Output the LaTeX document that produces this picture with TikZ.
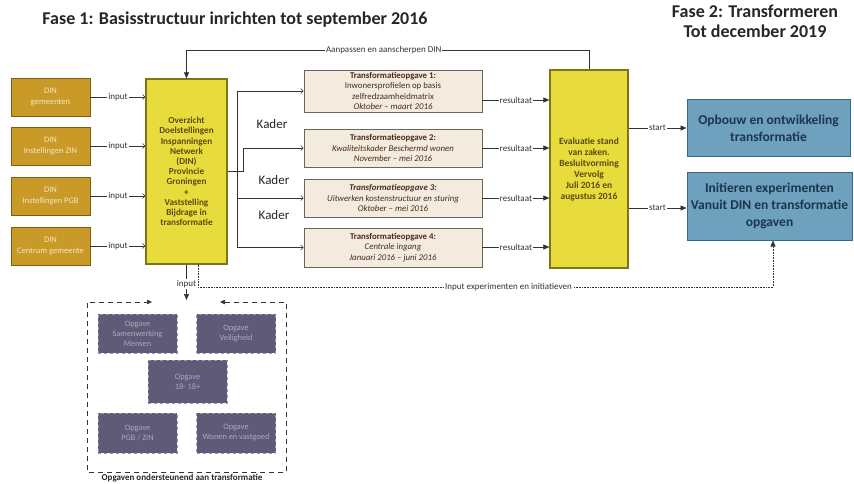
\documentclass[tikz,border=0pt]{standalone}
\usepackage{fontspec}
\setmainfont{Carlito}
\usetikzlibrary{arrows.meta}
\definecolor{dingold}{HTML}{C99A28}
\definecolor{dinborder}{HTML}{7A5E12}
\definecolor{dintext}{HTML}{F6E7BC}
\definecolor{ylw}{HTML}{E8DC3C}
\definecolor{ylwborder}{HTML}{7E7418}
\definecolor{ylwtext}{HTML}{5A4A12}
\definecolor{beige}{HTML}{F3EBDD}
\definecolor{beigeborder}{HTML}{6E645A}
\definecolor{trtext}{HTML}{4A2A1C}
\definecolor{blu}{HTML}{6DA1BD}
\definecolor{bluborder}{HTML}{3A6882}
\definecolor{blutext}{HTML}{1C3550}
\definecolor{purp}{HTML}{5E5A78}
\definecolor{purpborder}{HTML}{9A98AE}
\definecolor{purptext}{HTML}{ADAABD}
\definecolor{ln}{HTML}{333333}
\newcommand\fsz[2]{\fontsize{#1}{#2}\selectfont}
\tikzset{
  dinbox/.style={draw=dinborder, fill=dingold, line width=0.8pt, minimum width=79pt, minimum height=38pt, inner sep=0pt, align=center, text=dintext, font=\fsz{8.5}{11}},
  ylwbox/.style={draw=ylwborder, fill=ylw, line width=1.2pt, inner sep=0pt, align=center, text=ylwtext, font=\bfseries\fsz{9.2}{10.2}},
  trbox/.style={draw=beigeborder, fill=beige, line width=0.7pt, minimum width=178pt, inner sep=0pt, align=center, text=trtext, font=\fsz{8.8}{10.2}},
  blubox/.style={draw=bluborder, fill=blu, line width=1pt, inner sep=0pt, align=center, text=blutext, font=\bfseries\fsz{13.5}{17}},
  purpbox/.style={draw=purpborder, dashed, fill=purp, line width=0.5pt, minimum width=79pt, minimum height=39pt, inner sep=0pt, align=center, text=purptext, font=\fsz{8.3}{10}},
  conn/.style={draw=ln, line width=0.6pt},
  openarr/.style={conn, -{Straight Barb[length=2.5pt,width=5pt]}},
  fillarr/.style={conn, -{Triangle[length=6pt,width=5pt]}},
  lbl/.style={fill=white, inner sep=1pt, text=black!80, font=\fsz{9}{10}},
  kader/.style={text=black!85, font=\fsz{13}{15}},
  ttl/.style={text=black!85, font=\bfseries\fsz{18}{20}, align=center},
}
\begin{document}
\begin{tikzpicture}[x=1pt,y=-1pt]
\useasboundingbox[fill=white] (0,0) rectangle (854,484);

% titles
\node[ttl] (title1) at (235,20) {Fase 1: Basisstructuur inrichten tot september 2016};
\node[ttl] (title2) at (755,21) {Fase 2: Transformeren\\Tot december 2019};

% DIN boxes
\node[dinbox] (d1) at (50.5,97) {DIN\\gemeenten};
\node[dinbox] (d2) at (50.5,146) {DIN\\Instellingen ZIN};
\node[dinbox] (d3) at (50.5,196) {DIN\\Instellingen PGB};
\node[dinbox] (d4) at (50.5,246) {DIN\\Centrum gemeente};

% central box
\node[ylwbox, minimum width=81pt, minimum height=185pt] (c) at (186.5,171.5)
 {Overzicht\\Doelstellingen\\Inspanningen\\Netwerk\\(DIN)\\Provincie\\Groningen\\+\\Vaststelling\\Bijdrage in\\transformatie};

% transformation boxes
\node[trbox, minimum height=42pt] (t1) at (393,91)
 {\textbf{Transformatieopgave 1:}\\Inwonersprofielen op basis\\zelfredzaamheidmatrix\\\textit{Oktober -- maart 2016}};
\node[trbox, minimum height=38pt] (t2) at (393,148)
 {\textbf{Transformatieopgave 2:}\\\textit{Kwaliteitskader Beschermd wonen}\\\textit{November -- mei 2016}};
\node[trbox, minimum height=38pt] (t3) at (393,198)
 {\textbf{\textit{Transformatieopgave 3:}}\\\textit{Uitwerken kostenstructuur en sturing}\\\textit{Oktober -- mei 2016}};
\node[trbox, minimum height=39pt] (t4) at (393,247.5)
 {\textbf{Transformatieopgave 4:}\\\textit{Centrale ingang}\\\textit{Januari 2016 -- juni 2016}};

% Kader labels
\node[kader] (k1) at (272,124) {Kader};
\node[kader] (k2) at (274,180) {Kader};
\node[kader] (k3) at (274,215) {Kader};

% evaluation box
\node[ylwbox, font=\bfseries\fsz{9.5}{11}, minimum width=78pt, minimum height=198pt] (e) at (589,169)
 {Evaluatie stand\\van zaken.\\Besluitvorming\\Vervolg\\Juli 2016 en\\augustus 2016};

% phase 2 boxes
\node[blubox, minimum width=163pt, minimum height=57pt] (b1) at (768.5,128.5)
 {Opbouw en ontwikkeling\\transformatie};
\node[blubox, minimum width=165pt, minimum height=68pt] (b2) at (769.5,206)
 {Initieren experimenten\\Vanuit DIN en transformatie\\opgaven};

% supporting tasks
\node[purpbox] (p1) at (137.5,333.5) {Opgave\\Samenwerking\\Mensen};
\node[purpbox] (p2) at (236,333.5) {Opgave\\Veiligheid};
\node[purpbox, minimum height=43pt] (p3) at (187.5,381.5) {Opgave\\18- 18+};
\node[purpbox, minimum height=40pt] (p4) at (137.5,433) {Opgave\\PGB / ZIN};
\node[purpbox, minimum height=40pt] (p5) at (236,433) {Opgave\\Wonen en vastgoed};
\node[text=black!85, font=\bfseries\fsz{9}{10}] (plbl) at (182,478) {Opgaven ondersteunend aan transformatie};

% input arrows DIN -> central
\foreach \i in {1,...,4}{
  \draw[openarr] (d\i.east) -- node[lbl]{input} (c.west |- d\i.east);
}

% feedback loop
\coordinate (fbR) at (589,50);
\coordinate (fbL) at (186.5,50);
\draw[fillarr] (e.north) -- (fbR) -- node[lbl, pos=0.51]{Aanpassen en aanscherpen DIN} (fbL) -- (c.north);

% central -> transformation boxes
\coordinate (vx) at (237,0);
\coordinate (vx2) at (243,0);
\draw[openarr] (c.east) -- (vx2 |- c.east) |- (t2.west);
\draw[conn] (vx |- t1.west) -- (vx |- t4.west);
\draw[openarr] (vx |- t1.west) -- (t1.west);
\draw[openarr] (vx |- t3.west) -- (t3.west);
\draw[openarr] (vx |- t4.west) -- (t4.west);

% resultaat
\draw[fillarr] (t1.east |- 0,100) -- node[lbl]{resultaat} (e.west |- 0,100);
\draw[fillarr] (t2.east |- 0,148) -- node[lbl]{resultaat} (e.west |- 0,148);
\draw[fillarr] (t3.east |- 0,198) -- node[lbl]{resultaat} (e.west |- 0,198);
\draw[fillarr] (t4.east |- 0,247) -- node[lbl]{resultaat} (e.west |- 0,247);

% start
\draw[fillarr] (e.east |- 0,128) -- node[lbl]{start} (b1.west |- 0,128);
\draw[fillarr] (e.east |- 0,208) -- node[lbl]{start} (b2.west |- 0,208);

% dotted input experiments
\coordinate (dA) at (198,287);
\coordinate (dB) at (773,287);
\draw[conn, densely dotted, -{Triangle[length=6pt,width=5pt]}] (c.south -| dA) -- (dA) -- node[lbl, pos=0.54]{Input experimenten en initiatieven} (dB) -- (b2.south -| dB);

% input down to supporting tasks
\coordinate (inTip) at (186.5,300);
\draw[fillarr] (c.south) -- node[lbl, pos=0.55]{input} (inTip);

% dashed frame
\coordinate (aL) at (152,302);
\coordinate (aR) at (220,302);
\coordinate (fTL) at (87,302);
\coordinate (fTR) at (286,302);
\coordinate (fBL) at (87,472);
\coordinate (fBR) at (286,472);
\draw[conn, dash pattern=on 5pt off 4pt, {Triangle[length=5pt,width=4.5pt]}-{Triangle[length=5pt,width=4.5pt]}] (aR) -- (fTR) -- (fBR) -- (fBL) -- (fTL) -- (aL);
\end{tikzpicture}
\end{document}
